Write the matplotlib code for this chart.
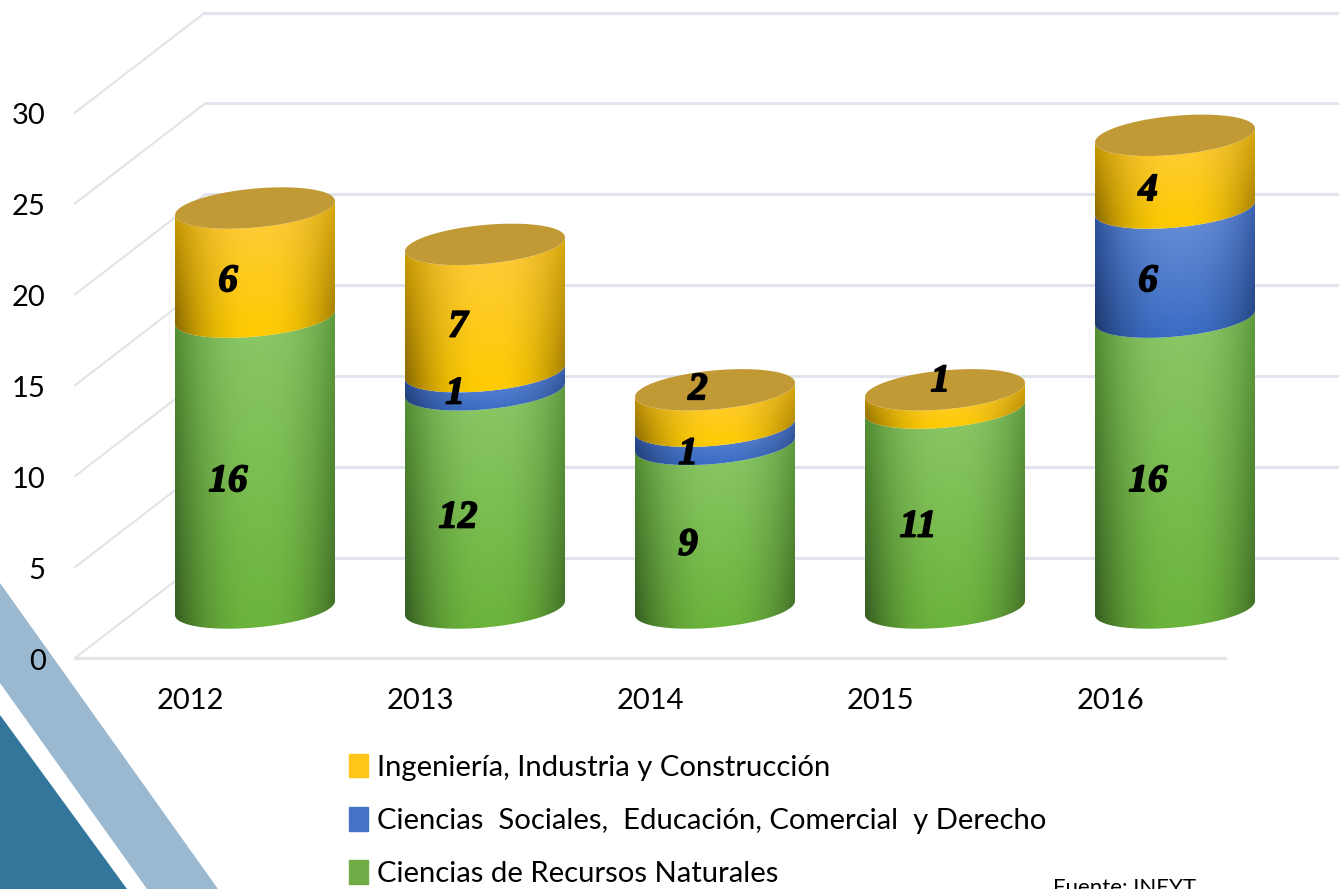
import numpy as np
import matplotlib
matplotlib.use("Agg")
import matplotlib.pyplot as plt
import matplotlib.patheffects as pe
from matplotlib.colors import to_rgb
from matplotlib.patches import Patch, Polygon, PathPatch
from matplotlib.path import Path

# data
years = ["2012", "2013", "2014", "2015", "2016"]
recursos = [16, 12, 9, 11, 16]
sociales = [0, 1, 1, 0, 6]
ingenieria = [6, 7, 2, 1, 4]
y_ticks = [0, 5, 10, 15, 20, 25, 30]

W, H = 1339, 889
plt.rcParams["font.family"] = ["Lato", "DejaVu Sans"]

fig = plt.figure(figsize=(W / 100, H / 100), dpi=100, facecolor="white")
ax = fig.add_axes([0, 0, 1, 1])
ax.axis("off")

# one unit of x is 230 px, one unit of y is 18.18 px
ax.set_xlim(-255 / 230, (W - 255) / 230)
ax.set_ylim(-(H - 608) / 18.18, 608 / 18.18)

# depth of the fake 3d box
dx = 65 / 230
dy = 50 / 18.18
half_w = 80 / 230
tilt = 7 / 18.18
minor = 19.5 / 18.18


def frac(points):
    return [(x / W, 1 - y / H) for x, y in points]


# corner decoration
fig.add_artist(Polygon(frac([(0, 583), (218, 889), (147, 889), (0, 683)]),
                       transform=fig.transFigure, color="#9ab9d0", lw=0, zorder=0))
fig.add_artist(Polygon(frac([(0, 715), (127, 889), (0, 889)]),
                       transform=fig.transFigure, color="#33769c", lw=0, zorder=0))

# walls
for v in y_ticks:
    ax.plot([-0.5 - dx, -0.5 + dx], [v - dy, v + dy], color="#e2e3e8", lw=1.5, zorder=1)
    ax.plot([-0.5 + dx, 4.5 + dx], [v + dy, v + dy], color="#e1e3ee", lw=2.2, zorder=1)
    ax.text(-0.5 - dx - 0.127, v - dy - 0.2, str(v), ha="right", va="center",
            fontsize=21, zorder=6)
ax.plot([-0.5 - dx, 4.5 - dx], [-dy, -dy], color="#e4e4e4", lw=2.2, zorder=1)

for i, year in enumerate(years):
    ax.text(i - dx, -5.1, year, ha="center", va="center", fontsize=21)


def shade(base, light, dark, n=160):
    # light from the top, dark towards the two sides of the cylinder
    u = np.linspace(-1, 1, n)
    w = np.linspace(0, 1, 80)[:, None, None]
    side = np.clip((np.abs(u - 0.05) / 1.05) ** 2.3, 0, 1)[None, :, None]
    base, light, dark = np.array(to_rgb(base)), np.array(to_rgb(light)), np.array(to_rgb(dark))
    mid = base + (light - base) * w
    edge = np.clip(dark * (0.85 + 0.5 * w), 0, 1)
    return mid * (1 - side) + edge * side


def segment(i, bottom, top, colors):
    t = np.linspace(np.pi, 2 * np.pi, 60)
    xs = i + half_w * np.cos(t)
    low = bottom + tilt * np.cos(t) + minor * np.sin(t)
    high = top + tilt * np.cos(t) + minor * np.sin(t)
    verts = np.vstack([np.column_stack([xs, low]),
                       np.column_stack([xs[::-1], high[::-1]]),
                       [[xs[0], low[0]]]])
    clip = PathPatch(Path(verts), transform=ax.transData, fc="none", ec="none")
    ax.add_patch(clip)
    img = ax.imshow(shade(*colors), origin="lower", aspect="auto", zorder=3,
                    extent=[i - half_w, i + half_w, low.min(), high.max()],
                    interpolation="bilinear")
    img.set_clip_path(clip)


green = ("#6cb43c", "#8cc868", "#3e6b26")
blue = ("#3a6cc4", "#6d92d8", "#22407c")
yellow = ("#ffcc00", "#ffcb40", "#9a7600")

# cylinders
for i in range(len(years)):
    a = recursos[i]
    b = a + sociales[i]
    c = b + ingenieria[i]
    segment(i, 0, a, green)
    if sociales[i] > 0:
        segment(i, a, b, blue)
    segment(i, b, c, yellow)
    t = np.linspace(0, 2 * np.pi, 120)
    ax.fill(i + half_w * np.cos(t), c + tilt * np.cos(t) + minor * np.sin(t),
            color="#c19a35", lw=0, zorder=4)

# labels, a little left and below the middle of each segment
# a few were dragged by hand in the original: (bar, serie): (shift x, shift y)
moved = {(1, 1): (-0.013, 0.32), (2, 2): (0.043, 2.05), (3, 2): (0.097, 2.0)}
for i in range(len(years)):
    start = 0
    for s, serie in enumerate([recursos, sociales, ingenieria]):
        value = serie[i]
        if value > 0:
            shift_x, shift_y = moved.get((i, s), (0, 0))
            ax.text(i - 0.117 + shift_x, start + value / 2 - 1.05 + shift_y, str(value),
                    ha="center", va="center", zorder=5, fontsize=28,
                    fontweight="bold", fontstyle="italic", family=["Liberation Serif"],
                    path_effects=[pe.withStroke(linewidth=1.2, foreground="black")])
        start += value

# legend
handles = [Patch(color="#ffc61a"), Patch(color="#4472c4"), Patch(color="#70ad47")]
labels = ["Ingeniería, Industria y Construcción",
          "Ciencias  Sociales,  Educación, Comercial  y Derecho",
          "Ciencias de Recursos Naturales"]
fig.legend(handles, labels, loc="upper left", bbox_to_anchor=(349 / W, 1 - 754 / H),
           frameon=False, fontsize=21.1, labelspacing=0.9, handlelength=0.65,
           handleheight=0.85, handletextpad=0.3, borderpad=0, borderaxespad=0)

# source, cut by the edge of the picture
ax.text((1053 - 255) / 230, -(894 - 608) / 18.18, "Fuente: INEYT",
        fontsize=16, ha="left", va="baseline")

fig.savefig("out.png", dpi=100)
